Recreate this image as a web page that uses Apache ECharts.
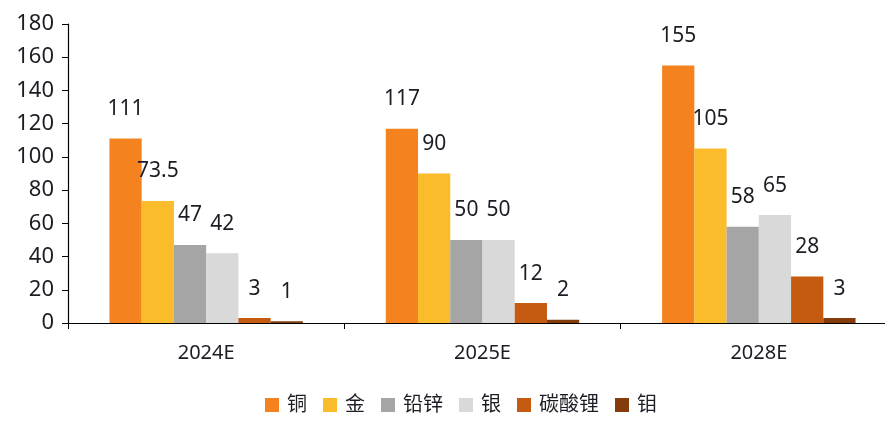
<!DOCTYPE html>
<html>
<head>
<meta charset="utf-8">
<script src="https://cdn.jsdelivr.net/npm/echarts@6/dist/echarts.min.js"></script>
<style>
  html, body { margin: 0; padding: 0; background: #fff; }
  #chart { width: 885px; height: 421px; }
</style>
</head>
<body>
<div id="chart"></div>
<script>
// Years on the category axis
const categories = ['2024E', '2025E', '2028E'];

// One array per metal, one value per year
const seriesNames = ['铜', '金', '铅锌', '银', '碳酸锂', '钼'];
const copper = [111, 117, 155];
const gold = [73.5, 90, 105];
const leadZinc = [47, 50, 58];
const silver = [42, 50, 65];
const lithiumCarbonate = [3, 12, 28];
const molybdenum = [1, 2, 3];

const yTicks = [0, 20, 40, 60, 80, 100, 120, 140, 160, 180];

const seriesValues = [copper, gold, leadZinc, silver, lithiumCarbonate, molybdenum];
const colors = ['#F4831F', '#FBBC2C', '#A5A5A5', '#D9D9D9', '#C55A11', '#843C0C'];

const fontFamily = '"Noto Sans", "Noto Sans CJK SC", sans-serif';
const textColor = '#1c1c24';

const chart = echarts.init(document.getElementById('chart'), null, { renderer: 'canvas' });

chart.setOption({
  animation: false,
  textStyle: { fontFamily: fontFamily },
  // the category axis runs slightly past the right edge of the canvas
  grid: { left: 68, width: 829, top: 24, bottom: 98, containLabel: false, outerBoundsMode: 'none' },
  legend: {
    bottom: 1,
    left: 260,
    itemWidth: 14,
    itemHeight: 14,
    itemGap: 16,
    icon: 'rect',
    textStyle: { fontSize: 20, color: textColor, fontFamily: fontFamily, padding: [0, 0, 0, 3] },
    data: seriesNames
  },
  xAxis: {
    type: 'category',
    data: categories,
    axisLine: { show: true, lineStyle: { color: '#000', width: 1.2 } },
    axisTick: { show: true, alignWithLabel: false, length: 6, lineStyle: { color: '#000' } },
    axisLabel: { fontSize: 20, color: textColor, margin: 20 }
  },
  yAxis: {
    type: 'value',
    min: yTicks[0],
    max: yTicks[yTicks.length - 1],
    interval: 20,
    splitLine: { show: false },
    axisLine: { show: true, lineStyle: { color: '#000', width: 1.2 } },
    axisTick: { show: true, length: 6, lineStyle: { color: '#000' } },
    axisLabel: { fontSize: 22, color: textColor, margin: 14 }
  },
  series: seriesNames.map((name, i) => ({
    name: name,
    type: 'bar',
    data: seriesValues[i],
    barGap: 0,
    barCategoryGap: '30%',
    itemStyle: { color: colors[i] },
    label: {
      show: true,
      position: 'top',
      distance: 19,
      fontSize: 21,
      color: textColor,
      fontFamily: fontFamily
    }
  }))
});
</script>
</body>
</html>
